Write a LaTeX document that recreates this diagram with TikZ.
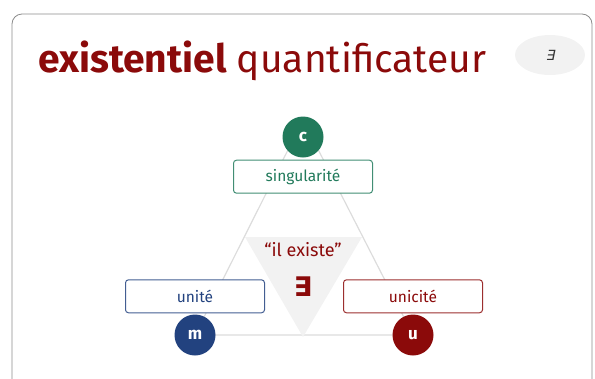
\documentclass[tikz,border=0pt]{standalone}
\usepackage{fontspec}
\setmainfont{Fira Sans}
\newfontfamily\symfont{DejaVu Sans}
\newfontfamily\slantfont[FakeSlant=0.2]{DejaVu Sans}
\usetikzlibrary{positioning,shapes.geometric}
\definecolor{crimson}{HTML}{8B0A0A}
\definecolor{forest}{HTML}{217A5B}
\definecolor{royal}{HTML}{22427F}
\definecolor{edgegray}{HTML}{DCDCDC}
\definecolor{softgray}{HTML}{F2F2F2}
\definecolor{frame}{HTML}{8C8C8C}

\begin{document}
\begin{tikzpicture}[x=1pt,y=-1pt,
  tag/.style={draw=#1!85,text=#1,fill=white,rounded corners=3pt,line width=1pt,minimum width=139pt,minimum height=33pt,inner sep=0pt,font=\fontsize{15.5}{15.5}\selectfont},
  dot/.style={circle,fill=#1,text=white,minimum size=41pt,inner sep=0pt,font=\bfseries\fontsize{17}{17}\selectfont}]
  \useasboundingbox (0,0) rectangle (595,378);
  \draw[frame,line width=0.8pt,rounded corners=10pt] (12,400) -- (12,14) -- (592,14) -- (592,400);
  % title and badge
  \node[anchor=base west,inner sep=0pt,text=crimson,font=\fontsize{39}{39}\selectfont] (title) at (38,72) {\bfseries existentiel\mdseries{} quantificateur};
  \node[ellipse,fill=softgray,minimum width=70pt,minimum height=40pt,inner sep=0pt,font=\slantfont\fontsize{14}{14}\selectfont,text=black!80] (badge) at (550,55) {∃};
  % triangle
  \coordinate (apex) at (303,120);
  \coordinate (mpos) at (195,335);
  \coordinate (upos) at (413,335);
  \draw[edgegray,line width=1.2pt] (apex) -- (mpos) -- (upos) -- cycle;
  \fill[softgray] (245,237) -- (362,237) -- (303,337) -- cycle;
  \node[text=crimson,font=\fontsize{18}{18}\selectfont] (says) at (303,250) {“il existe”};
  \node[text=crimson,font=\symfont\bfseries\fontsize{27}{27}\selectfont] (sym) at (303,287) {∃};
  % corners
  \node[dot=forest] (c) at (303,137) {c};
  \node[tag=forest,below=2pt of c] (sing) {singularité};
  \node[dot=royal] (m) at (mpos) {m};
  \node[tag=royal,above=1pt of m] (unite) {unité};
  \node[dot=crimson] (u) at (upos) {u};
  \node[tag=crimson,above=1pt of u] (unic) {unicité};
\end{tikzpicture}
\end{document}
